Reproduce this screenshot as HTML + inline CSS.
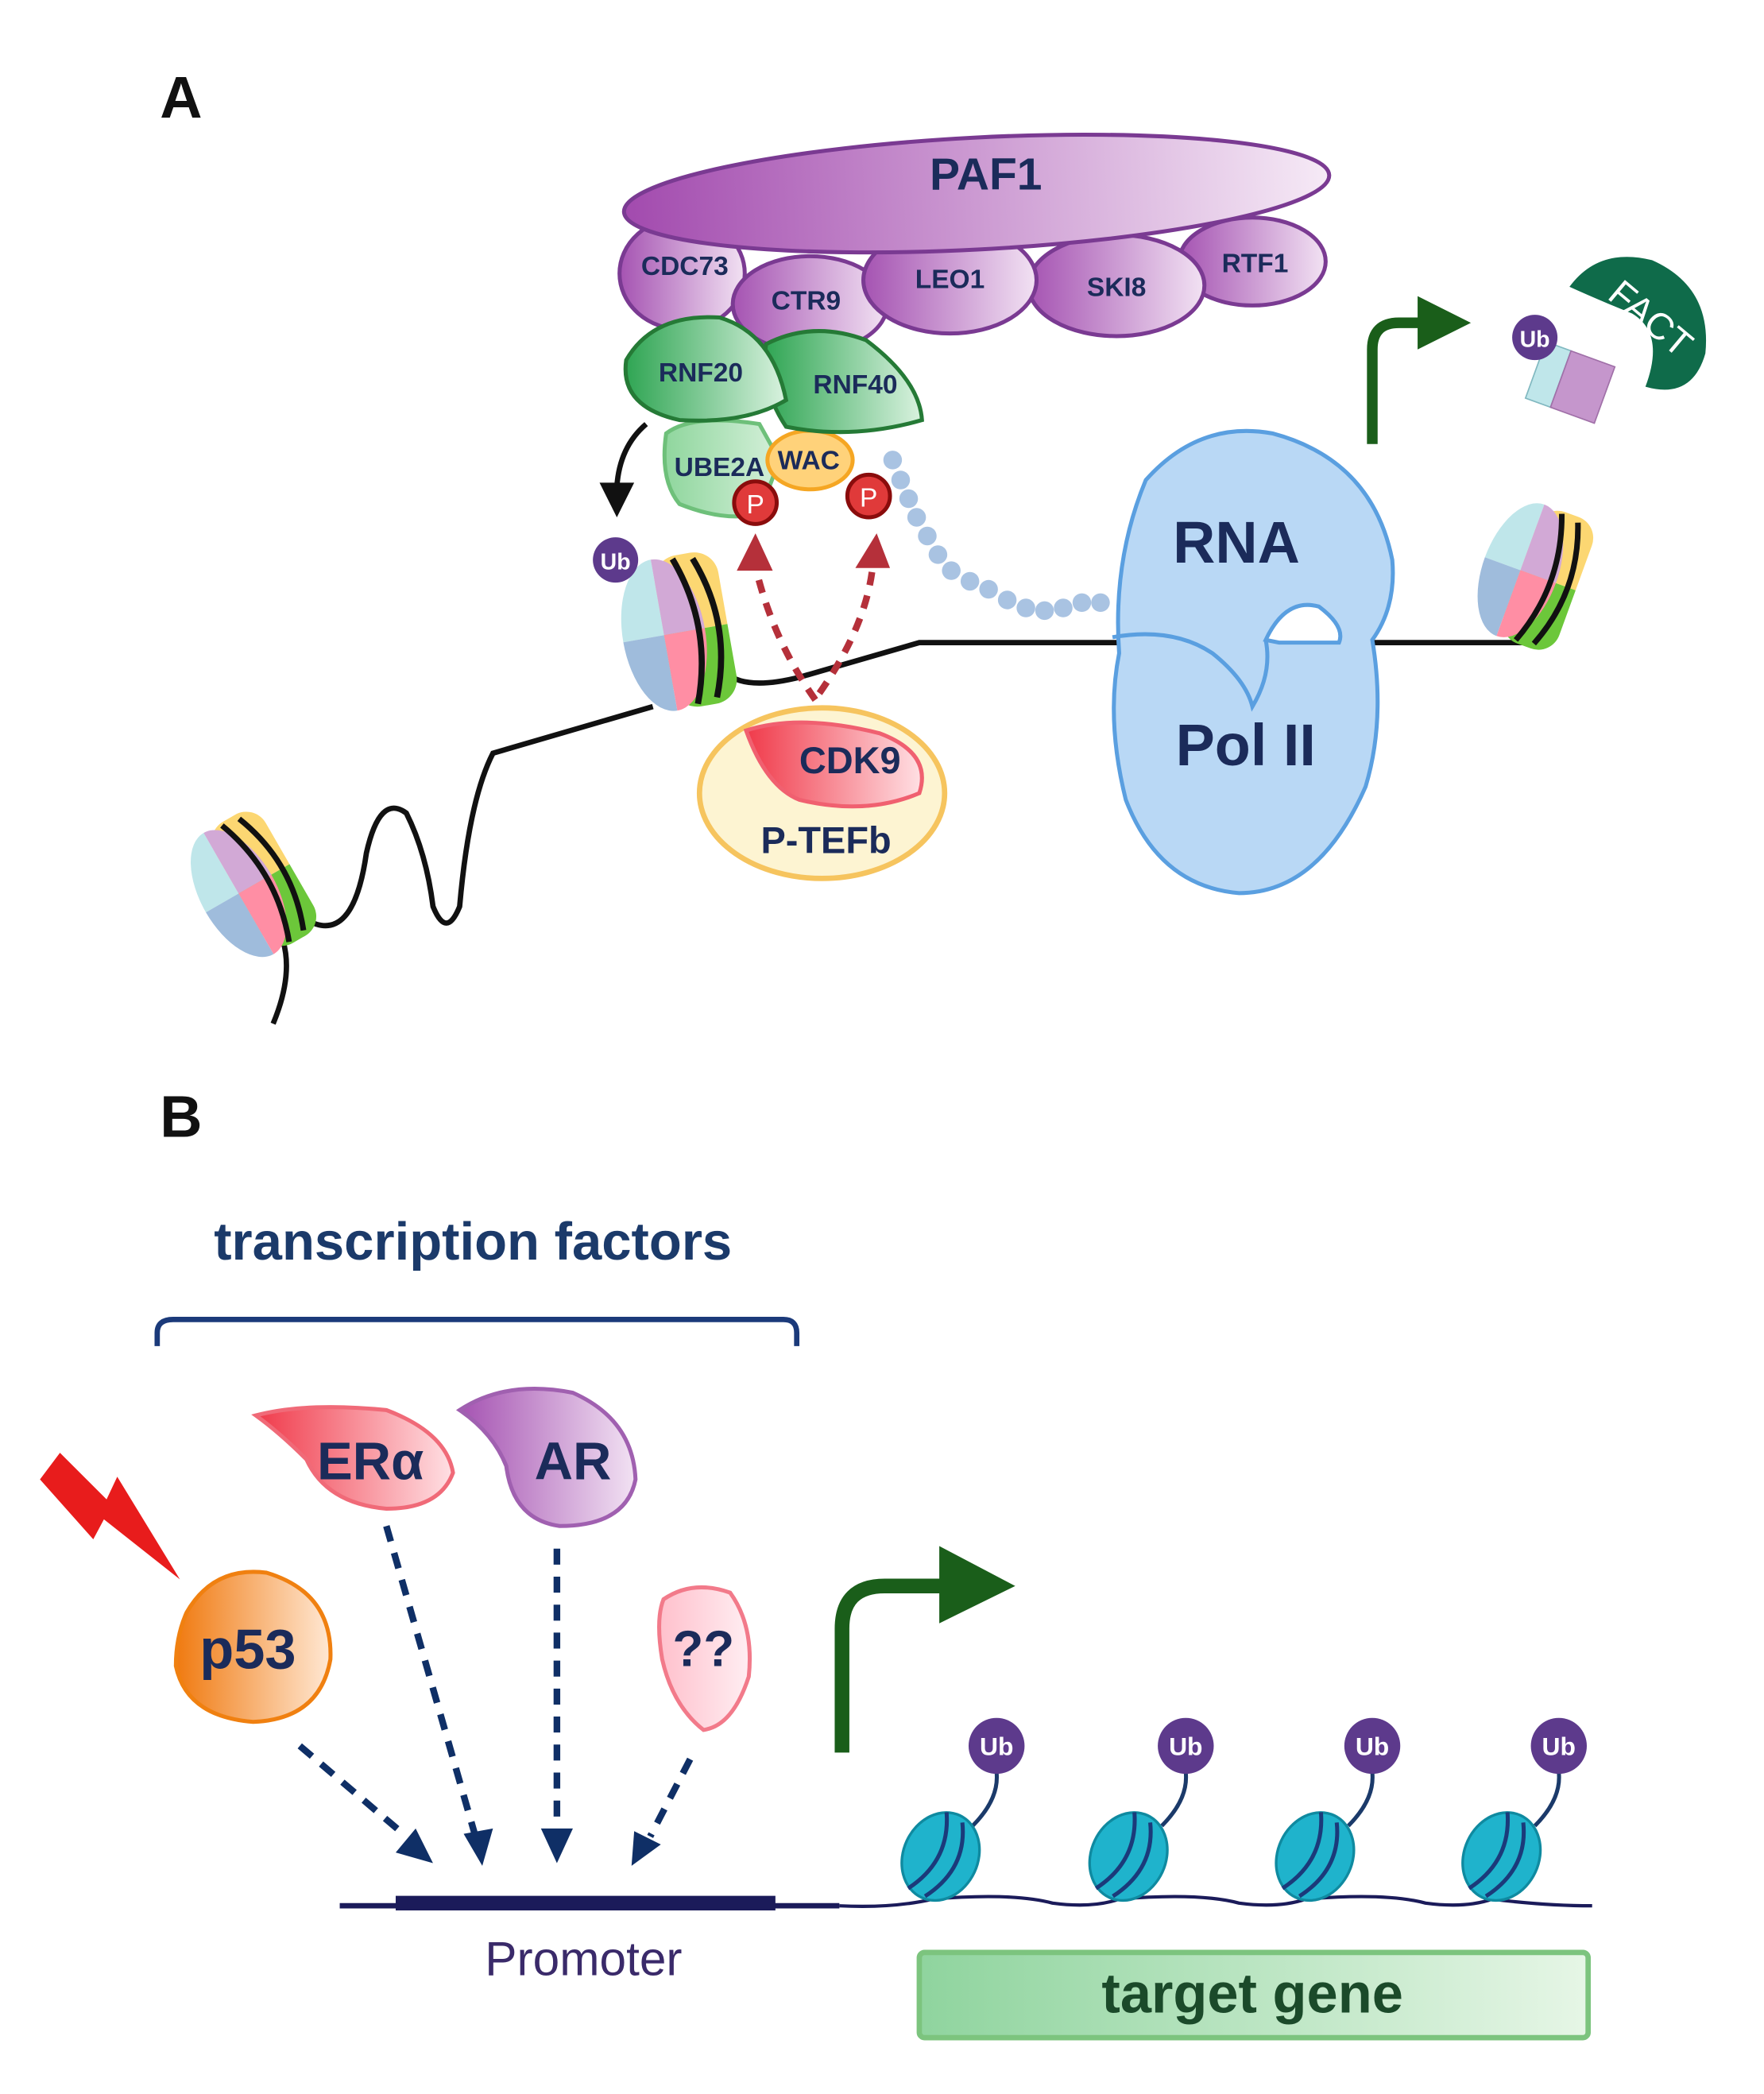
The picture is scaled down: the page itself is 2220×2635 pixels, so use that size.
<!DOCTYPE html>
<html><head><meta charset="utf-8"><style>html,body{margin:0;padding:0;background:#fff}svg{display:block}</style></head>
<body>
<svg width="2220" height="2635" viewBox="0 0 1324 1571" xmlns="http://www.w3.org/2000/svg" font-family="Liberation Sans, sans-serif">
<defs>
<linearGradient id="paf" x1="0" x2="1"><stop offset="0" stop-color="#a24aae"/><stop offset="1" stop-color="#f6eaf6"/></linearGradient>
<linearGradient id="pur" x1="0" x2="1"><stop offset="0" stop-color="#a553b2"/><stop offset="1" stop-color="#f2e2f3"/></linearGradient>
<linearGradient id="grn" x1="0" x2="1"><stop offset="0" stop-color="#2fa553"/><stop offset="1" stop-color="#d9f2df"/></linearGradient>
<linearGradient id="lgrn" x1="0" x2="1"><stop offset="0" stop-color="#8fd69d"/><stop offset="1" stop-color="#d5f0da"/></linearGradient>
<linearGradient id="org" x1="0" x2="1"><stop offset="0" stop-color="#f07a10"/><stop offset="1" stop-color="#ffe8d4"/></linearGradient>
<linearGradient id="red" x1="0" x2="1"><stop offset="0" stop-color="#f03a4a"/><stop offset="1" stop-color="#ffe0e4"/></linearGradient>
<linearGradient id="tg" x1="0" x2="1"><stop offset="0" stop-color="#8fd49e"/><stop offset="1" stop-color="#e6f6e6"/></linearGradient>
<linearGradient id="pink" x1="0" x2="1"><stop offset="0" stop-color="#ffc0cc"/><stop offset="1" stop-color="#ffeef2"/></linearGradient>
<clipPath id="nb"><rect x="-12" y="-50" width="42" height="100" rx="16"/></clipPath>
<clipPath id="nf"><ellipse cx="-12" cy="0" rx="27" ry="50"/></clipPath>
<g id="nuc">
 <g clip-path="url(#nb)"><rect x="-20" y="-55" width="60" height="55" fill="#fcd772"/><rect x="-20" y="0" width="60" height="55" fill="#6cc73a"/></g>
 <g clip-path="url(#nf)"><rect x="-40" y="-55" width="28" height="55" fill="#bfe6ea"/><rect x="-12" y="-55" width="40" height="55" fill="#d2a9d6"/><rect x="-40" y="0" width="28" height="55" fill="#9fbcdc"/><rect x="-12" y="0" width="40" height="55" fill="#ff8ea4"/></g>
 <path d="M2,-48 Q20,0 2,48" stroke="#111" stroke-width="4" fill="none"/>
 <path d="M15,-46 Q33,0 15,46" stroke="#111" stroke-width="4" fill="none"/>
</g>
<g id="cnuc">
 <ellipse cx="0" cy="0" rx="28" ry="34" fill="#1fb3cc" stroke="#0f8aa0" stroke-width="2"/>
 <path d="M-10,-32 Q8,0 -12,32 M4,-30 Q22,0 2,32" stroke="#1b3a7a" stroke-width="3" fill="none"/>
</g>
</defs>

<text x="120" y="88" font-size="44" font-weight="bold" fill="#111">A</text>

<ellipse cx="940" cy="196" rx="55" ry="33" fill="url(#pur)" stroke="#7a3a92" stroke-width="3"/>
<ellipse cx="838" cy="214" rx="66" ry="38" fill="url(#pur)" stroke="#7a3a92" stroke-width="3"/>
<ellipse cx="512" cy="205" rx="47" ry="42" fill="url(#pur)" stroke="#7a3a92" stroke-width="3"/>
<ellipse cx="608" cy="228" rx="58" ry="36" fill="url(#pur)" stroke="#7a3a92" stroke-width="3"/>
<ellipse cx="713" cy="210" rx="65" ry="40" fill="url(#pur)" stroke="#7a3a92" stroke-width="3"/>
<ellipse cx="733" cy="145" rx="265" ry="42" transform="rotate(-3 733 145)" fill="url(#paf)" stroke="#7a3a92" stroke-width="3"/>
<g font-weight="bold" fill="#1b2b5a" text-anchor="middle">
<text x="740" y="142" font-size="34">PAF1</text>
<text x="514" y="206" font-size="20">CDC73</text>
<text x="605" y="232" font-size="20">CTR9</text>
<text x="713" y="216" font-size="20">LEO1</text>
<text x="838" y="222" font-size="20">SKI8</text>
<text x="942" y="204" font-size="20">RTF1</text>
</g>

<path d="M500,325 Q520,310 570,318 L585,345 L570,385 Q545,392 510,378 Q495,360 500,325Z" fill="url(#lgrn)" stroke="#6ec07a" stroke-width="3"/>
<ellipse cx="608" cy="345" rx="32" ry="22" fill="#ffd27a" stroke="#f5a623" stroke-width="3"/>
<path d="M575,258 Q610,240 650,255 Q690,285 692,315 Q640,330 590,320 Q570,290 575,258Z" fill="url(#grn)" stroke="#257a36" stroke-width="3"/>
<path d="M470,270 Q490,235 540,238 Q580,250 590,300 Q560,318 510,315 Q465,305 470,270Z" fill="url(#grn)" stroke="#257a36" stroke-width="3"/>
<g font-weight="bold" fill="#1b2b5a" text-anchor="middle" font-size="20">
<text x="526" y="286">RNF20</text>
<text x="642" y="295">RNF40</text>
<text x="540" y="357">UBE2A</text>
<text x="607" y="352">WAC</text>
</g>

<g fill="#a9c3e2">
<circle cx="670" cy="345" r="7"/><circle cx="676" cy="360" r="7"/><circle cx="682" cy="374" r="7"/><circle cx="688" cy="388" r="7"/><circle cx="696" cy="402" r="7"/><circle cx="704" cy="416" r="7"/><circle cx="714" cy="428" r="7"/><circle cx="728" cy="436" r="7"/><circle cx="742" cy="442" r="7"/><circle cx="756" cy="450" r="7"/><circle cx="770" cy="456" r="7"/><circle cx="784" cy="458" r="7"/><circle cx="798" cy="456" r="7"/><circle cx="812" cy="452" r="7"/><circle cx="826" cy="452" r="7"/>
</g>

<circle cx="567" cy="377" r="16" fill="#e03a3a" stroke="#8a0c0c" stroke-width="3"/>
<text x="567" y="385" font-size="20" fill="#fff" text-anchor="middle">P</text>
<circle cx="652" cy="372" r="16" fill="#e03a3a" stroke="#8a0c0c" stroke-width="3"/>
<text x="652" y="380" font-size="20" fill="#fff" text-anchor="middle">P</text>

<path d="M485,318 Q465,335 463,365" stroke="#111" stroke-width="4" fill="none"/>
<polygon points="450,362 476,362 463,388" fill="#111"/>

<path d="M205,768 Q225,720 205,690 M230,690 Q265,710 275,640 Q285,595 305,610 Q320,640 325,680 Q335,705 345,680 Q352,600 370,565 L490,530 M545,505 Q560,518 600,508 L690,482 L1150,482" stroke="#111" stroke-width="4" fill="none"/>

<use href="#nuc" transform="translate(512,474) rotate(-10) scale(1.15)"/>
<use href="#nuc" transform="translate(190,664) rotate(-30) scale(1.05)"/>
<use href="#nuc" transform="translate(1153,432) rotate(20) scale(1.05)"/>
<circle cx="462" cy="420" r="17" fill="#5d3a8c"/>
<text x="462" y="427" font-size="17" font-weight="bold" fill="#fff" text-anchor="middle">Ub</text>

<path d="M612,525 Q580,480 567,425" stroke="#b5303a" stroke-width="5" stroke-dasharray="10 8" fill="none"/>
<path d="M615,520 Q650,470 655,425" stroke="#b5303a" stroke-width="5" stroke-dasharray="10 8" fill="none"/>
<polygon points="553,428 580,428 567,400" fill="#b5303a"/>
<polygon points="642,426 668,426 658,400" fill="#b5303a"/>

<ellipse cx="617" cy="595" rx="92" ry="64" fill="#fdf4d2" stroke="#f6c45e" stroke-width="4"/>
<path d="M560,548 Q600,535 660,550 Q700,565 690,595 Q650,612 600,600 Q575,590 560,548Z" fill="url(#red)" stroke="#f06070" stroke-width="3"/>
<text x="638" y="580" font-size="28" font-weight="bold" fill="#1b2b5a" text-anchor="middle">CDK9</text>
<text x="620" y="640" font-size="28" font-weight="bold" fill="#1b2b5a" text-anchor="middle">P-TEFb</text>

<path d="M860,360 Q900,315 955,325 Q1030,345 1045,420 Q1048,455 1030,480 Q1040,540 1025,590 Q990,670 930,670 Q870,665 845,600 Q830,540 840,490 Q835,420 860,360Z" fill="#b9d8f5" stroke="#5a9fe0" stroke-width="3"/>
<path d="M835,478 Q880,470 910,490 Q935,510 940,530 Q955,505 950,480" stroke="#5a9fe0" stroke-width="3" fill="none"/>
<path d="M950,480 Q965,448 990,455 Q1010,470 1005,482 L960,482Z" fill="#fff" stroke="#5a9fe0" stroke-width="3"/>
<text x="928" y="422" font-size="44" font-weight="bold" fill="#1b2b5a" text-anchor="middle">RNA</text>
<text x="935" y="574" font-size="44" font-weight="bold" fill="#1b2b5a" text-anchor="middle">Pol II</text>

<path d="M1030,333 L1030,262 Q1030,242 1050,242 L1068,242" stroke="#1a5e1a" stroke-width="8" fill="none"/>
<polygon points="1064,222 1104,242 1064,262" fill="#1a5e1a"/>

<path d="M1178,215 Q1200,185 1240,195 Q1285,215 1280,265 Q1270,300 1235,290 Q1250,250 1225,235 Q1200,225 1178,215Z" fill="#0f6b4a"/>
<text x="1238" y="248" font-size="28" fill="#fff" text-anchor="middle" transform="rotate(40 1238 240)">FACT</text>
<g transform="translate(1180,290) rotate(20)">
<rect x="-30" y="-25" width="20" height="45" fill="#bfe6ea" stroke="#80b8c0"/><rect x="-10" y="-25" width="35" height="45" fill="#c596cc" stroke="#a070a8"/>
</g>
<circle cx="1152" cy="253" r="17" fill="#5d3a8c"/>
<text x="1152" y="260" font-size="17" font-weight="bold" fill="#fff" text-anchor="middle">Ub</text>

<text x="120" y="853" font-size="44" font-weight="bold" fill="#111">B</text>
<text x="355" y="945" font-size="40" font-weight="bold" fill="#1b3a6a" text-anchor="middle">transcription factors</text>
<path d="M118,1010 L118,1000 Q118,990 130,990 L588,990 Q598,990 598,1000 L598,1010" stroke="#1b3a7a" stroke-width="4" fill="none"/>

<polygon points="30,1110 45,1090 80,1125 88,1108 135,1185 78,1140 70,1155" fill="#e81c1c"/>

<path d="M140,1210 Q160,1175 200,1180 Q250,1195 248,1245 Q240,1290 190,1292 Q140,1288 132,1250 Q132,1228 140,1210Z" fill="url(#org)" stroke="#f08010" stroke-width="3"/>
<text x="186" y="1252" font-size="42" font-weight="bold" fill="#1b2b5a" text-anchor="middle">p53</text>

<path d="M192,1062 Q230,1052 290,1058 Q335,1075 340,1105 Q330,1132 290,1132 Q245,1128 230,1095 Q210,1075 192,1062Z" fill="url(#red)" stroke="#f06a78" stroke-width="3"/>
<text x="278" y="1110" font-size="40" font-weight="bold" fill="#1b2b5a" text-anchor="middle">ERα</text>

<path d="M345,1058 Q380,1035 430,1045 Q475,1065 477,1110 Q470,1145 420,1145 Q385,1140 380,1100 Q370,1075 345,1058Z" fill="url(#pur)" stroke="#a060b0" stroke-width="3"/>
<text x="430" y="1110" font-size="40" font-weight="bold" fill="#1b2b5a" text-anchor="middle">AR</text>

<path d="M498,1200 Q520,1185 548,1195 Q566,1220 562,1258 Q550,1295 528,1298 Q505,1280 497,1245 Q492,1215 498,1200Z" fill="url(#pink)" stroke="#f27a8a" stroke-width="3"/>
<text x="528" y="1250" font-size="38" font-weight="bold" fill="#1b2b5a" text-anchor="middle">??</text>

<g stroke="#0f2f66" stroke-width="5" stroke-dasharray="12 9" fill="none">
<path d="M225,1310 L305,1378"/><path d="M290,1145 L356,1375"/><path d="M418,1162 L418,1372"/><path d="M518,1320 L488,1378"/>
</g>
<g fill="#0f2f66">
<polygon points="297,1390 325,1398 312,1372"/><polygon points="348,1376 370,1372 362,1400"/><polygon points="406,1372 430,1372 418,1398"/><polygon points="476,1374 496,1384 474,1400"/>
</g>

<line x1="255" y1="1430" x2="630" y2="1430" stroke="#1b1b5a" stroke-width="4"/>
<line x1="297" y1="1428" x2="582" y2="1428" stroke="#1b1b5a" stroke-width="11"/>
<text x="438" y="1482" font-size="36" fill="#3a2a6a" text-anchor="middle">Promoter</text>

<path d="M630,1430 Q670,1432 700,1425 Q760,1420 790,1428 Q820,1432 840,1425 Q900,1420 930,1428 Q960,1432 980,1425 Q1040,1420 1070,1428 Q1100,1432 1120,1425 Q1160,1430 1195,1430" stroke="#1b1b5a" stroke-width="2.5" fill="none"/>
<g stroke="#1b3a6a" stroke-width="3" fill="none">
<path d="M748,1330 Q750,1350 730,1370"/><path d="M890,1330 Q892,1350 872,1370"/><path d="M1030,1330 Q1032,1350 1012,1370"/><path d="M1170,1330 Q1172,1350 1152,1370"/>
</g>
<use href="#cnuc" transform="translate(706,1393) rotate(25)"/>
<use href="#cnuc" transform="translate(847,1393) rotate(25)"/>
<use href="#cnuc" transform="translate(987,1393) rotate(25)"/>
<use href="#cnuc" transform="translate(1127,1393) rotate(25)"/>
<g fill="#5d3a8c"><circle cx="748" cy="1310" r="21"/><circle cx="890" cy="1310" r="21"/><circle cx="1030" cy="1310" r="21"/><circle cx="1170" cy="1310" r="21"/></g>
<g font-size="19" font-weight="bold" fill="#fff" text-anchor="middle"><text x="748" y="1317">Ub</text><text x="890" y="1317">Ub</text><text x="1030" y="1317">Ub</text><text x="1170" y="1317">Ub</text></g>

<path d="M632,1315 L632,1222 Q632,1190 664,1190 L712,1190" stroke="#1a5e1a" stroke-width="11" fill="none"/>
<polygon points="705,1160 762,1190 705,1218" fill="#1a5e1a"/>

<rect x="690" y="1465" width="502" height="64" rx="4" fill="url(#tg)" stroke="#7cc47e" stroke-width="4"/>
<text x="940" y="1510" font-size="42" font-weight="bold" fill="#1b4a2a" text-anchor="middle">target gene</text>
</svg>
</body></html>
